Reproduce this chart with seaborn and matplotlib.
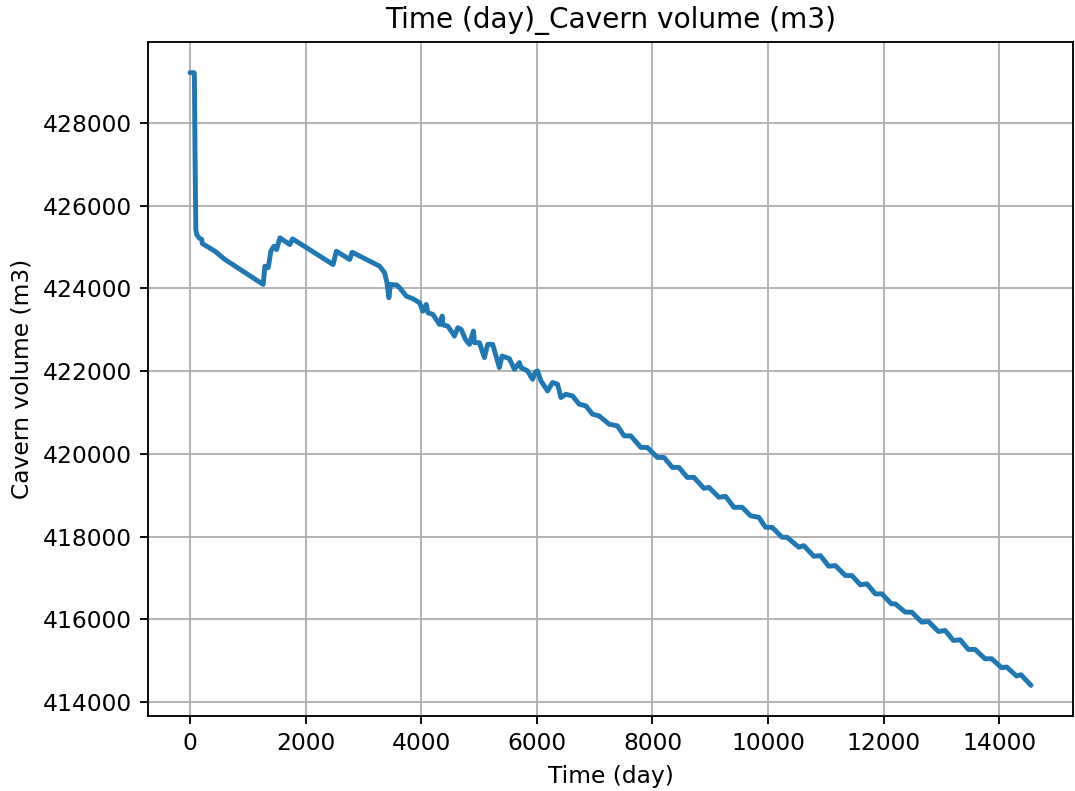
import matplotlib
matplotlib.use("Agg")
import matplotlib.pyplot as plt
import pandas as pd
import seaborn as sns

# Cavern volume history (time in days, volume in m3)
time_day = [
    0, 69, 75, 86, 100, 116, 155, 202, 212, 432, 604, 1265, 1295, 1352, 1398,
    1450, 1497, 1554, 1726, 1773, 2474, 2532, 2762, 2805, 3280, 3366, 3406,
    3440, 3466, 3573, 3625, 3741, 3855, 3970, 4027, 4086, 4114, 4200, 4316,
    4362, 4376, 4459, 4574, 4631, 4690, 4764, 4833, 4902, 4920, 5006, 5092,
    5149, 5236, 5294, 5351, 5398, 5524, 5610, 5696, 5726, 5840, 5926, 5973,
    6012, 6071, 6185, 6271, 6358, 6416, 6503, 6617, 6732, 6848, 6962, 7077,
    7250, 7393, 7509, 7625, 7797, 7911, 8084, 8199, 8343, 8458, 8601, 8717,
    8890, 8976, 9149, 9264, 9408, 9551, 9696, 9839, 9955, 10069, 10242, 10328,
    10530, 10616, 10791, 10905, 11048, 11164, 11337, 11451, 11596, 11710,
    11855, 11969, 12131, 12200, 12372, 12486, 12658, 12774, 12947, 13062,
    13205, 13321, 13464, 13580, 13753, 13867, 14039, 14126, 14298, 14374,
    14547,
]
cavern_volume = [
    429220, 429220, 429200, 427283, 425424, 425304, 425224, 425183, 425086,
    424900, 424700, 424097, 424538, 424500, 424900, 425021, 424941, 425224,
    425062, 425200, 424579, 424900, 424700, 424876, 424538, 424379, 424145,
    423776, 424097, 424085, 424017, 423814, 423751, 423655, 423452, 423614,
    423413, 423372, 423131, 423331, 423118, 423090, 422849, 423051, 423010,
    422769, 422648, 422969, 422689, 422689, 422327, 422648, 422648, 422366,
    422086, 422366, 422303, 422045, 422206, 422086, 422004, 421803, 421980,
    422004, 421762, 421521, 421724, 421683, 421362, 421441, 421400, 421200,
    421159, 420959, 420918, 420717, 420676, 420435, 420435, 420155, 420155,
    419913, 419913, 419672, 419672, 419430, 419430, 419165, 419189, 418948,
    418972, 418706, 418706, 418503, 418465, 418223, 418223, 417982, 417982,
    417741, 417780, 417523, 417538, 417282, 417296, 417055, 417055, 416831,
    416855, 416613, 416613, 416372, 416372, 416171, 416171, 415930, 415945,
    415703, 415727, 415486, 415503, 415269, 415269, 415044, 415044, 414827,
    414844, 414627, 414658, 414400,
]

df = pd.DataFrame({"Time (day)": time_day, "Cavern volume (m3)": cavern_volume})

dpi = 168
fig = plt.figure(figsize=(1075 / dpi, 791 / dpi), dpi=dpi)
ax = fig.add_axes([148 / 1075, 1 - 716 / 791, (1073 - 148) / 1075, (716 - 42) / 791])

sns.lineplot(data=df, x="Time (day)", y="Cavern volume (m3)", ax=ax,
             color="#1f77b4", linewidth=2.1, sort=False, estimator=None,
             solid_joinstyle="round", solid_capstyle="round")

ax.grid(True, color="#b0b0b0", linewidth=0.8)
ax.set_axisbelow(True)
ax.ticklabel_format(axis="y", style="plain", useOffset=False)
ax.set_title("Time (day)_Cavern volume (m3)", fontsize=12)
ax.set_xlabel("Time (day)", fontsize=10)
ax.set_ylabel("Cavern volume (m3)", fontsize=10)

fig.savefig("out.png", dpi=dpi)
